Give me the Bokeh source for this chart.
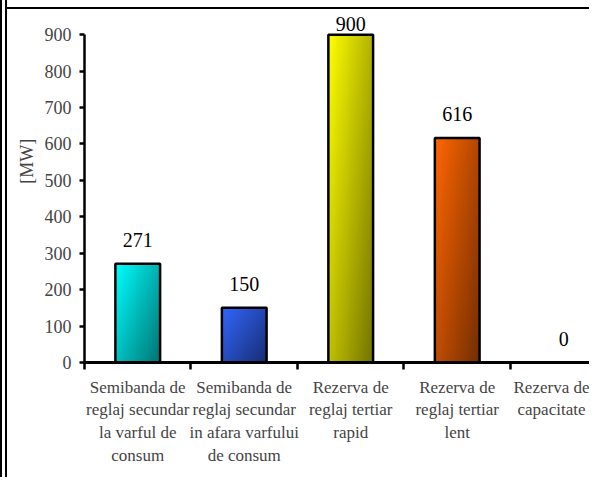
import numpy as np
from bokeh.plotting import figure
from bokeh.models import Range1d, LinearAxis, FixedTicker
from bokeh.embed import file_html
from bokeh.resources import INLINE
from bokeh.core.properties import value

# ---- data ----
categories = [
    "Semibanda de\nreglaj secundar\nla varful de\nconsum",
    "Semibanda de\nreglaj secundar\nin afara varfului\nde consum",
    "Rezerva de\nreglaj tertiar\nrapid",
    "Rezerva de\nreglaj tertiar\nlent",
    "Rezerva de\ncapacitate",
]
values = [271, 150, 900, 616, 0]
y_ticks = [0, 100, 200, 300, 400, 500, 600, 700, 800, 900]
value_labels = [str(v) for v in values]
y_axis_title = "[MW]"

# ---- styles ----
light_colors = [(0, 255, 255), (51, 102, 255), (255, 255, 0), (255, 102, 0), (200, 200, 200)]
dark_factor = 0.45
bar_width = 0.42
label_cap = 862          # labels are kept inside the plot area (as in the original)
title_shift = "\u00a0" * 11   # moves the axis title up, as in the original
FONT = "Liberation Serif"

W, H = 589, 477
p = figure(width=W, height=H, x_range=Range1d(0, 4.808), y_range=Range1d(0, 969),
           output_backend="svg", toolbar_location=None, x_axis_type=None,
           min_border_left=77, min_border_right=0, min_border_top=0, min_border_bottom=124)
p.styles = {
    "border-left": "7px double black",
    "padding-top": "9px",
    "background-image": "linear-gradient(black, black)",
    "background-size": "100% 2px",
    "background-position": "0 7px",
    "background-repeat": "no-repeat",
}
p.outline_line_color = None
p.grid.visible = False
p.background_fill_color = "white"
p.border_fill_color = "white"

xs = [i + 0.5 for i in range(len(categories))]

# gradient bars via images (diagonal light -> dark)
res_w, res_h = 48, 240
u = np.linspace(0, 1, res_w)[None, :]
v = np.linspace(0, 1, res_h)[:, None]  # row 0 = bottom
t = 0.55 * u + 0.45 * (1 - v)
for x, val, col in zip(xs, values, light_colors):
    if val <= 0:
        continue
    c = np.array(col, dtype=float)
    f = 1 - (1 - dark_factor) * t
    img = np.empty((res_h, res_w), dtype=np.uint32)
    view = img.view(dtype=np.uint8).reshape((res_h, res_w, 4))
    view[:, :, 0] = np.clip(c[0] * f, 0, 255).astype(np.uint8)
    view[:, :, 1] = np.clip(c[1] * f, 0, 255).astype(np.uint8)
    view[:, :, 2] = np.clip(c[2] * f, 0, 255).astype(np.uint8)
    view[:, :, 3] = 255
    p.image_rgba(image=[img], x=x - bar_width / 2, y=0, dw=bar_width, dh=val)

p.vbar(x=xs, top=values, width=bar_width, fill_color=None, line_color="black", line_width=2.5)

label_y = [min(v_, label_cap) for v_ in values]
p.text(x=xs, y=label_y, text=value_labels, text_align="center", text_baseline="alphabetic",
       y_offset=-24, text_font=value(FONT), text_font_size="20px", text_color="black")

# y axis
ya = p.yaxis[0]
ya.ticker = FixedTicker(ticks=y_ticks)
ya.bounds = (0, 900)
ya.minor_tick_line_color = None
ya.major_tick_out = 5
ya.major_tick_in = 0
ya.major_tick_line_width = 2.5
ya.axis_line_width = 2.5
ya.major_label_text_font = FONT
ya.major_label_text_font_size = "18px"
ya.major_label_standoff = 8
ya.axis_label = title_shift + y_axis_title
ya.axis_label_text_font = FONT
ya.axis_label_text_font_style = "normal"
ya.axis_label_text_font_size = "18px"
ya.axis_label_standoff = 5

# x axis: labels at category centres, ticks at category boundaries
xa = LinearAxis(ticker=FixedTicker(ticks=xs, minor_ticks=list(range(len(categories) + 1))),
                major_label_overrides={x: c for x, c in zip(xs, categories)})
xa.major_tick_out = 0
xa.major_tick_in = 0
xa.minor_tick_out = 7
xa.minor_tick_in = 0
xa.minor_tick_line_width = 2.5
xa.axis_line_width = 3
xa.major_label_text_font = FONT
xa.major_label_text_font_size = "17px"
xa.major_label_text_line_height = 1.2
xa.major_label_standoff = 8
p.add_layout(xa, "below")

open("out.html", "w").write(file_html(p, INLINE))
